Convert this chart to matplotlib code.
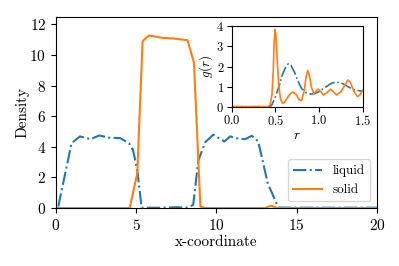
import matplotlib
matplotlib.use("Agg")
import matplotlib.pyplot as plt

plt.rcParams['font.family'] = 'serif'
plt.rcParams['font.serif'] = ['cmr10']
plt.rcParams['mathtext.fontset'] = 'cm'
plt.rcParams['axes.formatter.use_mathtext'] = True

# density profiles along x
liquid_x = [0.15, 0.98, 1.5, 2.16, 2.7, 3.3, 4.0, 4.55, 4.8, 5.07, 5.34, 6.5, 7.5, 8.2,
            8.55, 8.87, 9.3, 9.8, 10.5, 10.85, 11.3, 11.78, 12.2, 12.6, 13.2, 13.85,
            15.0, 17.0, 20.0]
liquid_rho = [0.1, 4.24, 4.68, 4.5, 4.74, 4.6, 4.57, 4.24, 3.8, 2.5, 0.02, 0.02, 0.05, 0.03,
              0.2, 3.1, 4.3, 4.79, 4.35, 4.68, 4.55, 4.5, 4.72, 4.35, 1.6, 0.03,
              0.02, 0.02, 0.02]

solid_x = [0.0, 4.6, 5.07, 5.4, 5.8, 6.6, 7.3, 8.2, 8.6, 9.0, 9.3, 13.0, 13.4, 13.8, 20.0]
solid_rho = [0.0, 0.0, 2.27, 10.9, 11.28, 11.13, 11.08, 10.97, 9.5, 0.1, 0.0, 0.0, 0.15, 0.0, 0.0]

# radial distribution functions
gl_r = [0.0, 0.44, 0.46, 0.5, 0.54, 0.58, 0.62, 0.65, 0.68, 0.72, 0.76, 0.8, 0.85, 0.9,
        0.95, 1.0, 1.05, 1.1, 1.15, 1.2, 1.25, 1.3, 1.35, 1.4, 1.45, 1.5]
gl_g = [0.0, 0.0, 0.1, 0.5, 1.0, 1.6, 2.0, 2.14, 2.05, 1.7, 1.25, 0.9, 0.7, 0.63,
        0.65, 0.75, 0.9, 1.05, 1.18, 1.22, 1.18, 1.08, 0.95, 0.85, 0.8, 0.77]

gs_r = [0.0, 0.42, 0.44, 0.46, 0.475, 0.485, 0.495, 0.505, 0.515, 0.53, 0.545, 0.56, 0.58,
        0.6, 0.63, 0.66, 0.7, 0.74, 0.77, 0.8, 0.83, 0.85, 0.87, 0.89, 0.91, 0.94,
        0.97, 0.99, 1.02, 1.05, 1.09, 1.13, 1.17, 1.2, 1.25, 1.3, 1.33, 1.36, 1.4,
        1.44, 1.47, 1.5]
gs_g = [0.0, 0.0, 0.1, 0.6, 1.8, 3.2, 3.85, 3.6, 2.8, 1.6, 0.8, 0.35, 0.17,
        0.2, 0.4, 0.6, 0.73, 0.6, 0.35, 0.3, 0.8, 1.45, 1.8, 1.55, 1.0, 0.65,
        0.8, 0.87, 0.75, 0.58, 0.7, 0.87, 0.72, 0.58, 0.75, 1.1, 1.33, 1.2, 0.75,
        0.5, 0.6, 0.82]

fig = plt.figure(figsize=(3.99, 2.66), dpi=100)
ax = fig.add_axes([0.140, 0.218, 0.805, 0.719])
ax.plot(liquid_x, liquid_rho, '-.', color='tab:blue', lw=1.5, label='liquid')
ax.plot(solid_x, solid_rho, '-', color='tab:orange', lw=1.5, label='solid')
ax.set_xlim(0, 20)
ax.set_ylim(0, 12.5)
ax.set_xticks([0, 5, 10, 15, 20])
ax.set_yticks([0, 2, 4, 6, 8, 10, 12])
ax.tick_params(labelsize=11)
ax.set_xlabel('x-coordinate', fontsize=11, labelpad=2)
ax.set_ylabel('Density', fontsize=11, labelpad=0)
ax.legend(loc='lower right', fontsize=9.5, handlelength=2.2)

ins = fig.add_axes([0.581, 0.599, 0.328, 0.302])
ins.plot(gl_r, gl_g, '-.', color='tab:blue', lw=1.2)
ins.plot(gs_r, gs_g, '-', color='tab:orange', lw=1.2)
ins.set_xlim(0, 1.5)
ins.set_ylim(0, 4)
ins.set_xticks([0.0, 0.5, 1.0, 1.5])
ins.set_yticks([0, 1, 2, 3, 4])
ins.tick_params(labelsize=9, pad=2)
ins.set_xlabel('$r$', fontsize=9.5, labelpad=1)
ins.set_ylabel('$g(r)$', fontsize=9.5, labelpad=1)

fig.savefig('out.png', dpi=100)
